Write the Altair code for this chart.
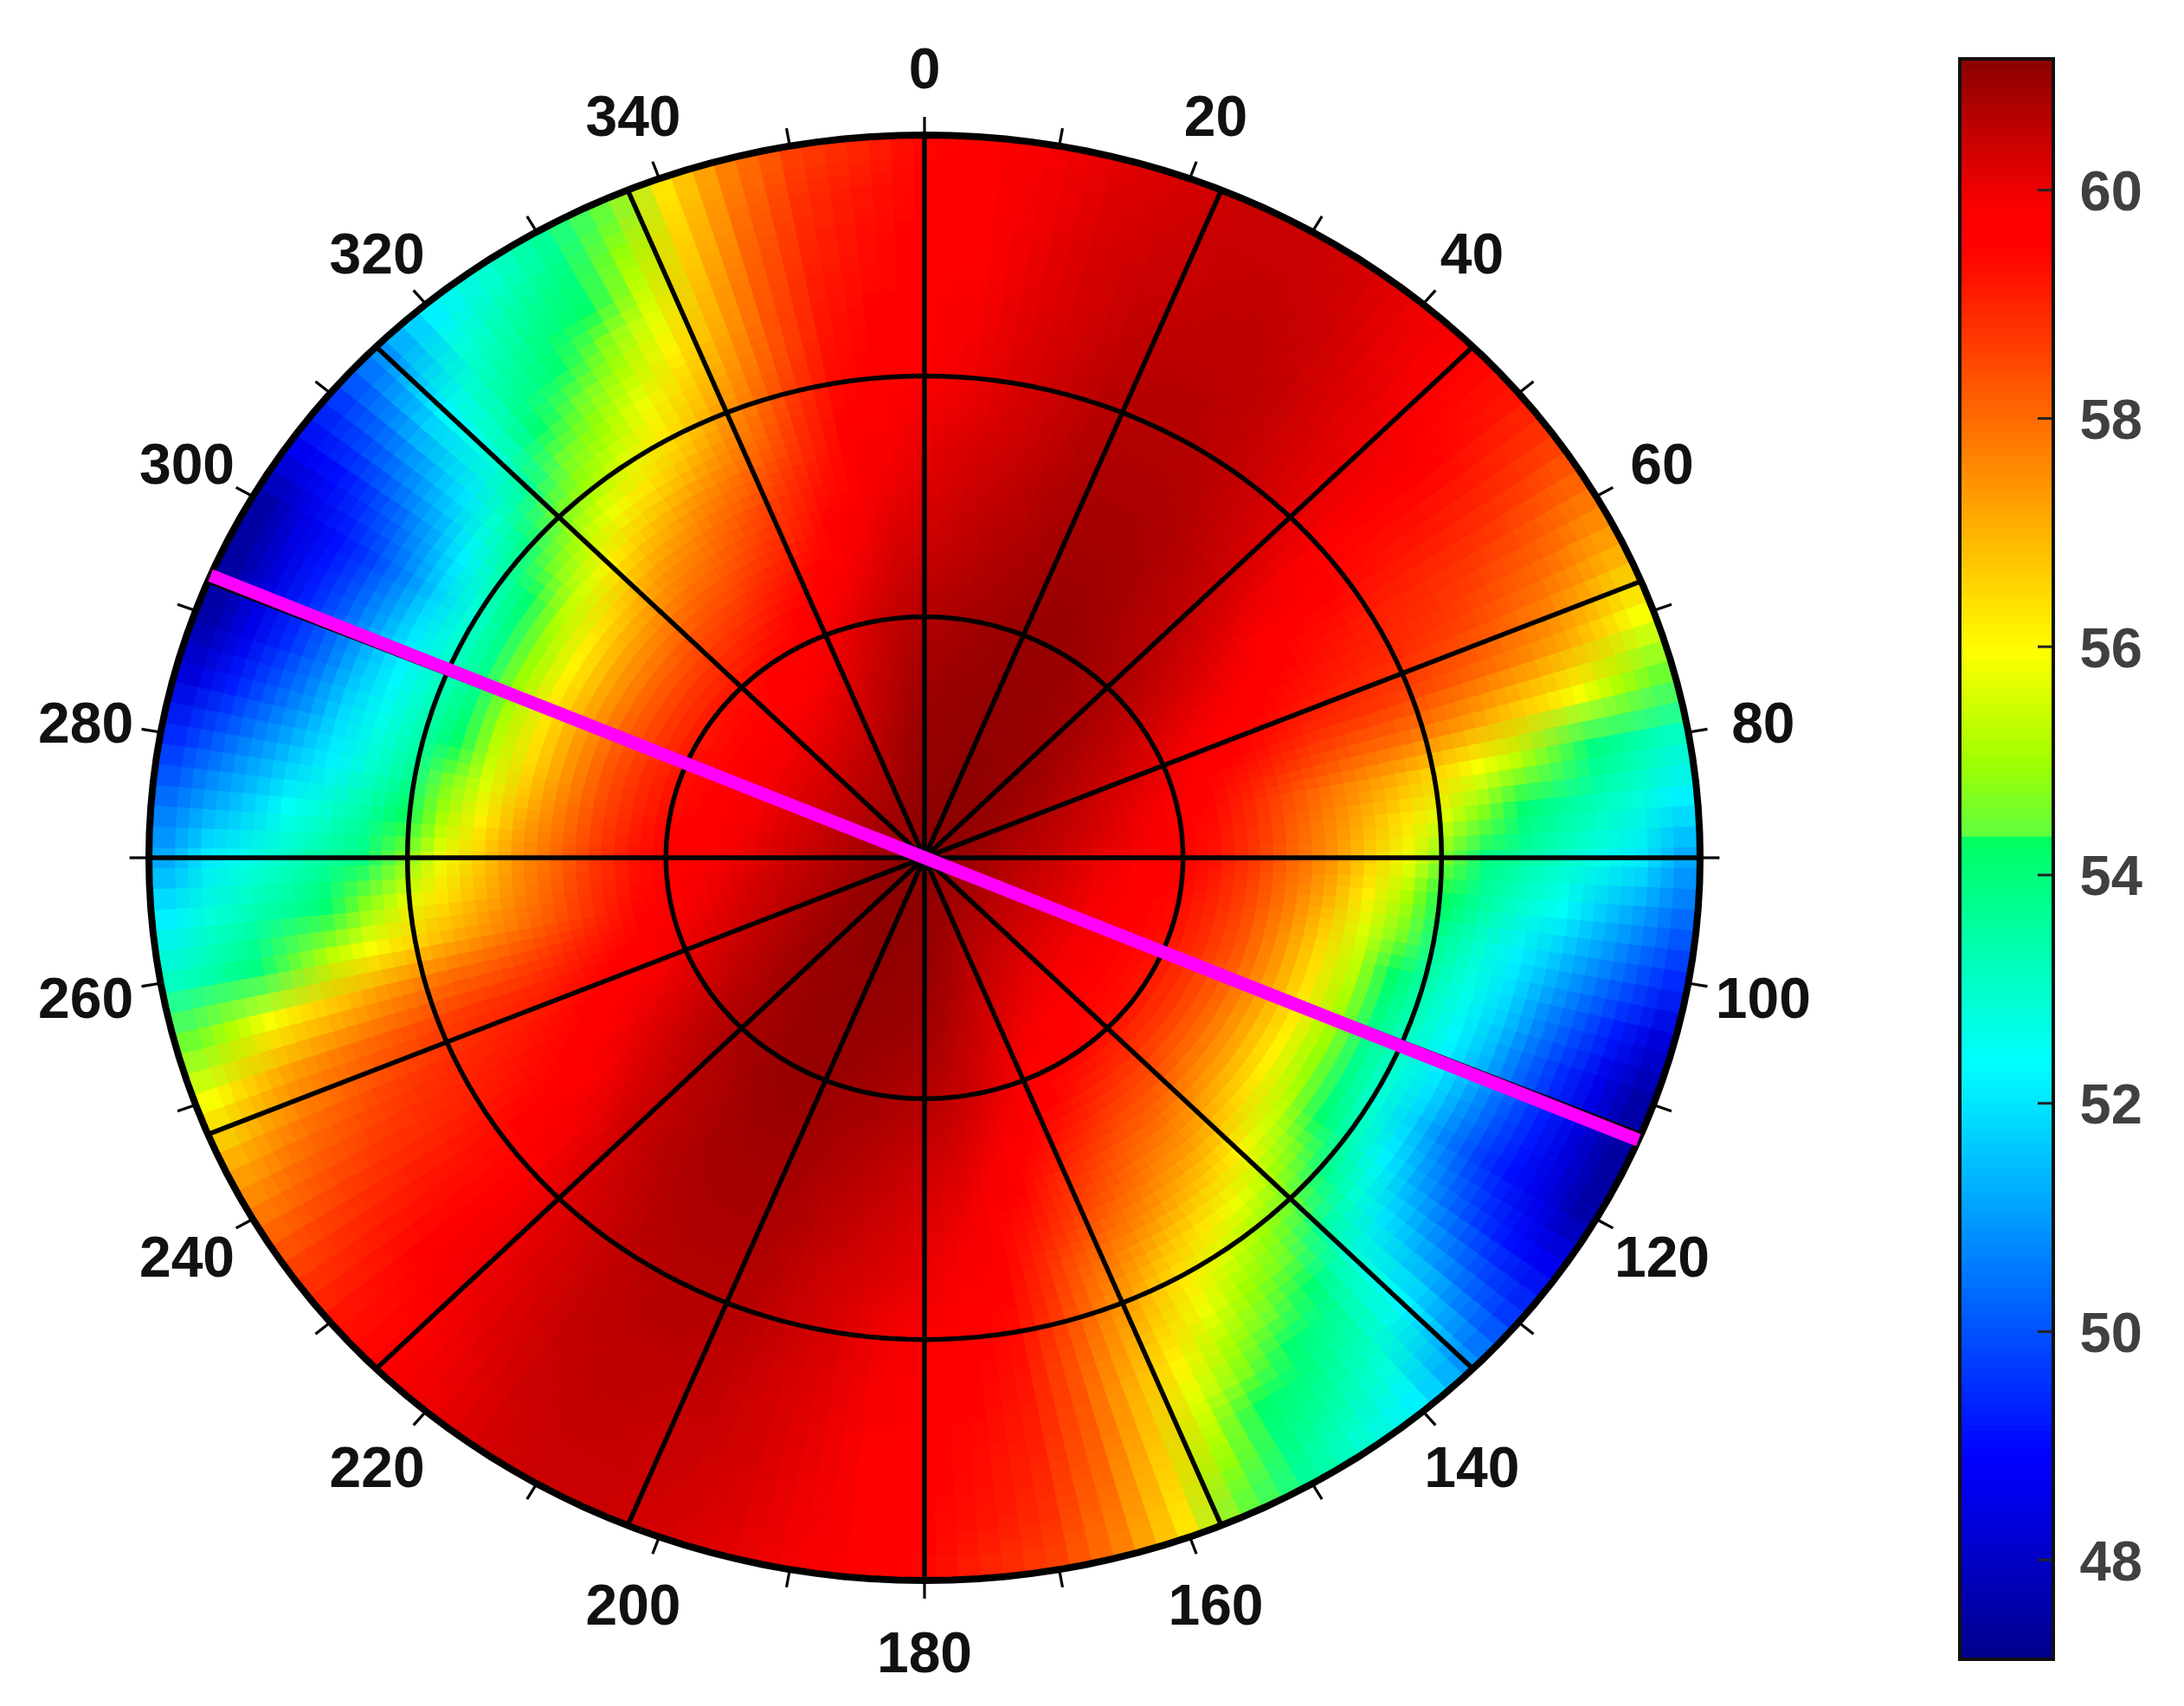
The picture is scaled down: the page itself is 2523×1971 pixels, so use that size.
import math
import altair as alt
import numpy as np
import pandas as pd

# Colour value per cell: one row per angle (0, 5, ... 175 deg), 20 radial rings from centre to rim.
# The field repeats every 180 deg in the picture.
VALUES_0_175 = [
 [61.1,61.05,61.0,60.95,60.9,60.8,60.7,60.55,60.4,60.25,60.15,60.05,59.9,59.8,59.75,59.65,59.6,59.55,59.5,59.4],
 [61.1,61.05,61.0,61.0,60.95,60.85,60.75,60.65,60.5,60.4,60.3,60.2,60.05,59.95,59.9,59.85,59.8,59.75,59.65,59.6],
 [61.1,61.1,61.05,61.0,61.0,60.9,60.85,60.75,60.6,60.55,60.45,60.35,60.25,60.2,60.15,60.1,60.05,60.0,59.95,59.9],
 [61.1,61.1,61.05,61.05,61.0,60.95,60.9,60.8,60.75,60.65,60.6,60.5,60.45,60.4,60.35,60.3,60.3,60.25,60.2,60.15],
 [61.1,61.1,61.1,61.05,61.05,61.0,60.95,60.9,60.85,60.8,60.75,60.7,60.65,60.6,60.55,60.5,60.45,60.4,60.35,60.3],
 [61.1,61.1,61.1,61.05,61.05,61.0,61.0,60.95,60.9,60.85,60.8,60.75,60.7,60.65,60.6,60.55,60.5,60.45,60.45,60.4],
 [61.1,61.1,61.1,61.05,61.05,61.0,61.0,60.95,60.9,60.85,60.8,60.75,60.7,60.65,60.6,60.55,60.55,60.5,60.45,60.4],
 [61.1,61.1,61.05,61.05,61.0,61.0,60.95,60.9,60.85,60.8,60.75,60.7,60.6,60.55,60.5,60.5,60.45,60.4,60.35,60.3],
 [61.1,61.1,61.05,61.0,60.95,60.9,60.85,60.8,60.7,60.65,60.6,60.5,60.4,60.35,60.3,60.25,60.2,60.15,60.05,60.0],
 [61.1,61.05,61.0,60.95,60.9,60.85,60.8,60.7,60.6,60.5,60.4,60.3,60.2,60.1,60.05,60.0,59.95,59.85,59.75,59.6],
 [61.1,61.05,61.0,60.95,60.85,60.75,60.65,60.55,60.4,60.25,60.1,59.95,59.85,59.75,59.65,59.6,59.5,59.4,59.3,59.2],
 [61.1,61.05,60.95,60.85,60.75,60.6,60.5,60.35,60.2,60.0,59.8,59.65,59.5,59.35,59.25,59.2,59.1,59.0,58.8,58.6],
 [61.1,61.0,60.9,60.8,60.65,60.5,60.3,60.15,59.95,59.7,59.55,59.35,59.2,59.05,58.95,58.8,58.65,58.45,58.15,57.8],
 [61.1,61.0,60.85,60.7,60.55,60.35,60.15,59.9,59.7,59.5,59.3,59.15,59.0,58.9,58.7,58.5,58.2,57.9,57.5,57.0],
 [61.05,60.95,60.8,60.65,60.45,60.2,60.0,59.75,59.5,59.25,59.0,58.85,58.7,58.5,58.25,57.95,57.6,57.2,56.6,55.9],
 [61.05,60.9,60.75,60.55,60.35,60.1,59.85,59.55,59.2,58.85,58.5,58.2,58.0,57.7,57.3,56.85,56.4,55.9,55.2,54.5],
 [61.05,60.9,60.7,60.5,60.3,60.0,59.7,59.4,58.95,58.4,57.9,57.4,56.95,56.45,55.9,55.3,54.4,53.9,53.5,53.1],
 [61.0,60.85,60.65,60.45,60.2,59.95,59.65,59.3,58.8,58.2,57.6,56.95,56.3,55.6,54.7,54.1,53.6,53.2,52.8,52.2],
 [61.0,60.85,60.6,60.35,60.05,59.8,59.6,59.25,58.7,58.05,57.45,56.6,55.8,54.6,53.9,53.5,53.05,52.6,52.1,51.2],
 [61.0,60.8,60.55,60.3,60.0,59.7,59.5,59.1,58.55,57.8,57.1,56.15,55.1,54.3,53.5,52.9,52.4,51.7,51.1,50.4],
 [61.0,60.8,60.5,60.25,59.95,59.65,59.4,59.0,58.4,57.6,56.7,55.6,54.6,53.6,52.9,52.2,51.6,50.9,50.2,49.5],
 [61.0,60.8,60.5,60.2,59.9,59.6,59.35,58.9,58.3,57.4,56.4,55.3,54.2,53.3,52.6,51.9,50.9,50.1,49.3,48.4],
 [61.0,60.8,60.5,60.2,59.9,59.6,59.3,58.85,58.2,57.3,56.3,55.1,53.9,53.1,52.3,51.5,50.4,49.5,48.6,47.6],
 [61.0,60.8,60.5,60.2,59.9,59.6,59.3,58.75,58.1,57.2,56.2,55.0,53.7,52.9,52.1,51.1,50.1,49.3,48.4,47.5],
 [61.0,60.8,60.5,60.2,59.9,59.6,59.2,58.7,58.0,57.1,56.1,54.9,53.8,52.8,51.8,50.7,49.8,49.1,48.5,47.6],
 [61.0,60.8,60.5,60.2,59.9,59.6,59.25,58.7,58.0,57.2,56.2,55.2,54.1,53.2,52.2,51.2,50.4,49.7,49.1,48.7],
 [61.0,60.8,60.5,60.2,59.9,59.6,59.3,58.75,58.1,57.3,56.5,55.5,54.6,53.8,52.9,52.0,51.4,50.8,50.2,49.7],
 [61.0,60.8,60.55,60.25,59.95,59.65,59.3,58.85,58.3,57.6,56.9,56.1,55.2,54.4,53.6,52.9,52.6,52.3,51.6,50.9],
 [61.0,60.85,60.6,60.3,60.0,59.7,59.4,58.95,58.45,57.9,57.3,56.6,55.8,55.0,54.5,54.1,53.6,53.2,52.8,52.2],
 [61.0,60.85,60.6,60.35,60.05,59.8,59.5,59.1,58.6,58.1,57.6,57.0,56.3,55.6,55.0,54.5,54.1,53.8,53.4,52.9],
 [61.0,60.85,60.65,60.4,60.15,59.85,59.6,59.3,58.9,58.4,58.0,57.5,56.8,56.2,55.8,55.2,54.7,54.2,53.9,53.6],
 [61.0,60.9,60.7,60.5,60.25,60.0,59.8,59.5,59.15,58.75,58.4,57.9,57.4,56.9,56.5,56.1,55.7,55.3,54.9,54.4],
 [61.05,60.95,60.75,60.55,60.35,60.15,59.95,59.7,59.4,59.05,58.8,58.4,58.0,57.7,57.4,57.1,56.9,56.7,56.5,56.3],
 [61.05,61.0,60.85,60.7,60.5,60.35,60.2,59.95,59.7,59.5,59.25,59.0,58.8,58.6,58.4,58.3,58.2,58.05,57.9,57.7],
 [61.1,61.0,60.9,60.8,60.65,60.5,60.4,60.2,60.0,59.85,59.7,59.55,59.45,59.35,59.25,59.15,59.05,58.95,58.8,58.6],
 [61.1,61.05,60.95,60.9,60.8,60.7,60.55,60.4,60.25,60.1,59.95,59.85,59.7,59.6,59.55,59.45,59.35,59.3,59.2,59.0],
]
ANGLE_LABELS = [0, 20, 40, 60, 80, 100, 120, 140, 160, 180, 200, 220, 240, 260, 280, 300, 320, 340]
SPOKE_ANGLES = [0, 22.5, 45, 67.5, 90, 112.5, 135, 157.5]
RING_RADII = [1/3, 2/3]
MARKED_ANGLE = 113
COLORBAR_TICKS = [48, 50, 52, 54, 56, 58, 60]
VMIN, VMAX = 47.13, 61.15
COLOR_STOPS = [VMIN, 48.9, 52.35, 54.33, 54.35, 55.0, 55.96, 57.7, 59.5, 59.8, VMAX]
COLOR_HEX = ["#00008b", "#0000ff", "#00ffff", "#00ff60", "#60ff40", "#a0ff00", "#ffff00",
             "#ff8000", "#ff0000", "#ff0000", "#8b0000"]

# Layout
W, H = 2240, 1950
CX, CY = 1060, 983
RX, RY = 896, 835
FONT = "Liberation Sans"

color_scale = alt.Scale(domain=COLOR_STOPS, range=COLOR_HEX, interpolate="rgb", clamp=True)
x_scale = alt.Scale(domain=[-CX / RX, (W - CX) / RX], range=[0, W], nice=False, zero=False)
y_scale = alt.Scale(domain=[(CY - H) / RY, CY / RY], range=[H, 0], nice=False, zero=False)
aspect = RX / RY
projection = dict(type="identity", reflectY=True, scale=RY, translate=[CX, CY])


def unit_xy(r, deg):
    a = math.radians(deg)
    return r * math.sin(a), r * math.cos(a)


# Polar cells: the same table is drawn in staggered, semi-transparent passes,
# which softens the cell edges the way the reference's interpolated shading does.
dth, dr = 5.0, 0.05
n_r = len(VALUES_0_175[0])


def cell_features(off_t, off_r):
    feats = []
    for rep in range(2):
        for i, row in enumerate(VALUES_0_175):
            th = rep * 180 + i * 5 + off_t * dth
            for j, v in enumerate(row):
                r0 = 0.0 if j == 0 else (j + off_r) * dr
                r1 = 1.0 if j == n_r - 1 else (j + 1 + off_r) * dr
                t0, t1 = th - dth / 2, th + dth / 2
                pts = [unit_xy(r0, t0), unit_xy(r1, t0), unit_xy(r1, th), unit_xy(r1, t1),
                       unit_xy(r0, t1), unit_xy(r0, t0)]
                ring = [[round(px * aspect, 4), round(py, 4)] for px, py in pts]
                feats.append({"type": "Feature", "properties": {"v": v},
                              "geometry": {"type": "Polygon", "coordinates": [ring]}})
    return feats


OFFSETS = [-1 / 3, 0.0, 1 / 3]
PASSES = [(ot, orr) for orr in OFFSETS for ot in OFFSETS]
cell_layers = []
for k, (ot, orr) in enumerate(PASSES):
    enc = {"color": alt.Color("properties.v:Q", scale=color_scale, legend=None)}
    if k == 0:
        mark = dict(strokeWidth=1.2)
        enc["stroke"] = alt.Stroke("properties.v:Q", scale=color_scale, legend=None)
    else:
        mark = dict(strokeWidth=0, opacity=1 / (k + 1))
    cell_layers.append(
        alt.Chart(alt.Data(values=cell_features(ot, orr))).mark_geoshape(**mark).encode(**enc).project(**projection)
    )


# Rings
def ring_frame(radii):
    rows = []
    for r in radii:
        for k in range(0, 361, 2):
            x, y = unit_xy(r, k)
            rows.append({"ring": r, "i": k, "x": x, "y": y})
    return pd.DataFrame(rows)


def lines(df, width):
    return alt.Chart(df).mark_line(color="black", strokeWidth=width).encode(
        x=alt.X("x:Q", scale=x_scale, axis=None),
        y=alt.Y("y:Q", scale=y_scale, axis=None),
        detail="ring:N", order="i:Q")


inner_rings = lines(ring_frame(RING_RADII), 5.5)
outer_ring = lines(ring_frame([1.0]), 8)


def segments(rows):
    return pd.DataFrame(rows, columns=["x0", "y0", "x1", "y1"])


def rule(df, width, color="black"):
    return alt.Chart(df).mark_rule(color=color, strokeWidth=width).encode(
        x=alt.X("x0:Q", scale=x_scale, axis=None),
        y=alt.Y("y0:Q", scale=y_scale, axis=None),
        x2="x1:Q", y2="y1:Q")


spokes = rule(segments([unit_xy(-1, a) + unit_xy(1, a) for a in SPOKE_ANGLES]), 5.5)
ticks = rule(segments([unit_xy(1, a) + unit_xy(1.025, a) for a in range(0, 360, 10)]), 3.2)
marked = rule(segments([unit_xy(-1, MARKED_ANGLE) + unit_xy(1, MARKED_ANGLE)]), 15, "#ff00ff")

label_df = pd.DataFrame([{"t": str(a), "x": unit_xy(1.098, a)[0], "y": unit_xy(1.096, a)[1]} for a in ANGLE_LABELS])
labels = alt.Chart(label_df).mark_text(font=FONT, fontSize=66, fontWeight="bold", color="#111111",
                                       align="center", baseline="middle", dy=6).encode(
    x=alt.X("x:Q", scale=x_scale, axis=None),
    y=alt.Y("y:Q", scale=y_scale, axis=None),
    text="t:N")

polar = alt.layer(*cell_layers, inner_rings, spokes, outer_ring, ticks, marked, labels).properties(width=W, height=H)

# Colour bar
levels = np.linspace(VMIN, VMAX, 281)
bar_df = pd.DataFrame({"lo": levels[:-1], "hi": levels[1:], "mid": (levels[:-1] + levels[1:]) / 2})
bar_y = alt.Scale(domain=[VMIN, VMAX], range=[1909, 60], nice=False, zero=False)
BAR_W = 108

bar = alt.Chart(bar_df).mark_rect(strokeWidth=1).encode(
    x=alt.value(0), x2=alt.value(BAR_W),
    y=alt.Y("lo:Q", scale=bar_y, axis=alt.Axis(orient="right", values=COLORBAR_TICKS, ticks=False, domain=False,
                                                grid=False, title=None, labelPadding=30, labelFontSize=65,
                                                labelFontWeight="bold", labelFont=FONT, labelColor="#404040",
                                                labelOffset=3, format="d")),
    y2="hi:Q",
    color=alt.Color("mid:Q", scale=color_scale, legend=None),
    stroke=alt.Stroke("mid:Q", scale=color_scale, legend=None),
)
bar_ticks = alt.Chart(pd.DataFrame({"v": COLORBAR_TICKS})).mark_rule(color="#222222", strokeWidth=3).encode(
    y=alt.Y("v:Q", scale=bar_y), x=alt.value(BAR_W - 18), x2=alt.value(BAR_W))
bar_frame = alt.Chart(pd.DataFrame({"lo": [VMIN], "hi": [VMAX]})).mark_rect(
    filled=False, stroke="#111111", strokeWidth=4).encode(
    x=alt.value(0), x2=alt.value(BAR_W), y=alt.Y("lo:Q", scale=bar_y), y2="hi:Q")
colorbar = alt.layer(bar, bar_ticks, bar_frame).properties(width=BAR_W, height=H)

chart = alt.hconcat(polar, colorbar, spacing=14).properties(padding=0, background="white").configure_view(stroke=None)
chart.save("out.html", embed_options={"renderer": "svg", "actions": False})
